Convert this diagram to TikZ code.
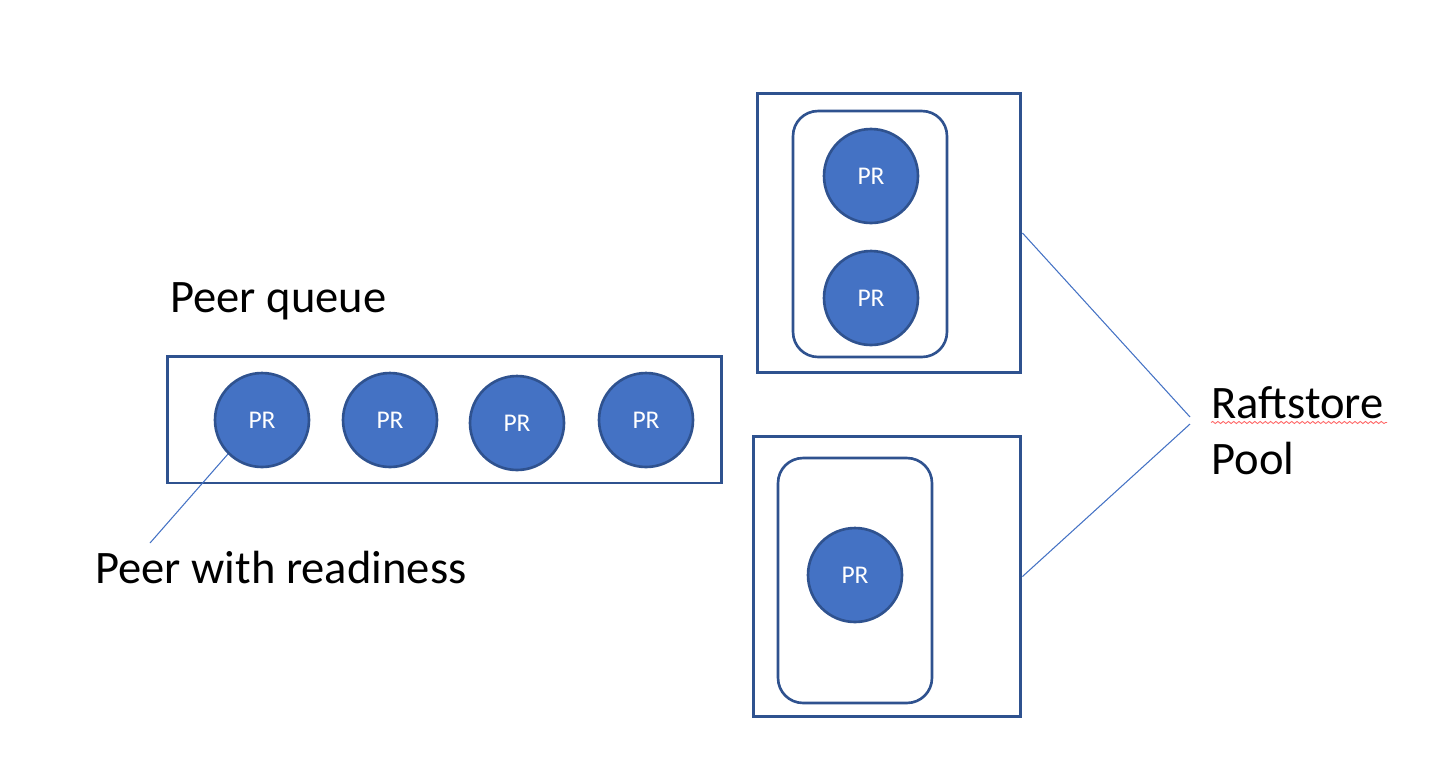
\documentclass[tikz,border=0pt]{standalone}
\usepackage{fontspec}
\setmainfont{Carlito}
\usetikzlibrary{positioning,decorations.pathmorphing}
\definecolor{prfill}{HTML}{4472C4}
\definecolor{prline}{HTML}{2F528F}
\tikzset{
	pr/.style={circle, fill=prfill, draw=prline, line width=1.5pt, minimum size=1.88cm, inner sep=0pt, text=white, font=\fontsize{14.5}{17}\selectfont},
	outerbox/.style={draw=prline, line width=1.7pt, inner sep=0pt},
	innerbox/.style={draw=prline, line width=1.5pt, rounded corners=0.5cm, inner sep=0pt},
	label text/.style={font=\fontsize{26.5}{31}\selectfont, anchor=west, inner sep=0pt},
	pointer/.style={draw=prfill, line width=0.6pt}
}
\begin{document}
\begin{tikzpicture}[x=0.02cm, y=-0.02cm]
	\useasboundingbox (0,0) rectangle (1430,772);
	
	%Peer queue
	\node[outerbox, minimum width=11.1cm, minimum height=2.54cm] (queue) at (444.5,419.5) {};
	\node[label text] (queuetext) at (170,301) {Peer queue};
	\node[pr] (q1) at (262,420) {PR};
	\node[pr] (q2) at (390,420) {PR};
	\node[pr] (q3) at (517,423) {PR};
	\node[pr] (q4) at (646,420) {PR};
	
	%Peer with readiness
	\node[label text] (readytext) at (95,567) {Peer with readiness};
	\coordinate (readyend) at (150,543);
	\draw[pointer] (q1.225) -- (readyend);
	
	%Upper pool box
	\node[outerbox, minimum width=5.28cm, minimum height=5.6cm] (poolA) at (889,233) {};
	\node[innerbox, minimum width=3.08cm, minimum height=4.92cm] (batchA) at (870,234) {};
	\node[pr] (a1) at (871,176) {PR};
	\node[pr] (a2) at (871,298) {PR};
	
	%Lower pool box
	\node[outerbox, minimum width=5.36cm, minimum height=5.62cm] (poolB) at (887,576.5) {};
	\node[innerbox, minimum width=3.08cm, minimum height=4.9cm] (batchB) at (855,580.5) {};
	\node[pr] (b1) at (855,575) {PR};
	
	%Raftstore Pool
	\node[label text] (rafttext) at (1211,403) {Raftstore};
	\node[label text] (pooltext) at (1211,458) {Pool};
	\draw[red!60, line width=0.5pt, decorate, decoration={snake, amplitude=0.6pt, segment length=3pt}] (rafttext.south west) ++(0,3) -- ++(176,0);
	\coordinate (rafttip) at (1190,420.5);
	\draw[pointer] (poolA.east) -- ([yshift=2pt]rafttip);
	\draw[pointer] (poolB.east) -- ([yshift=-2pt]rafttip);
\end{tikzpicture}
\end{document}
